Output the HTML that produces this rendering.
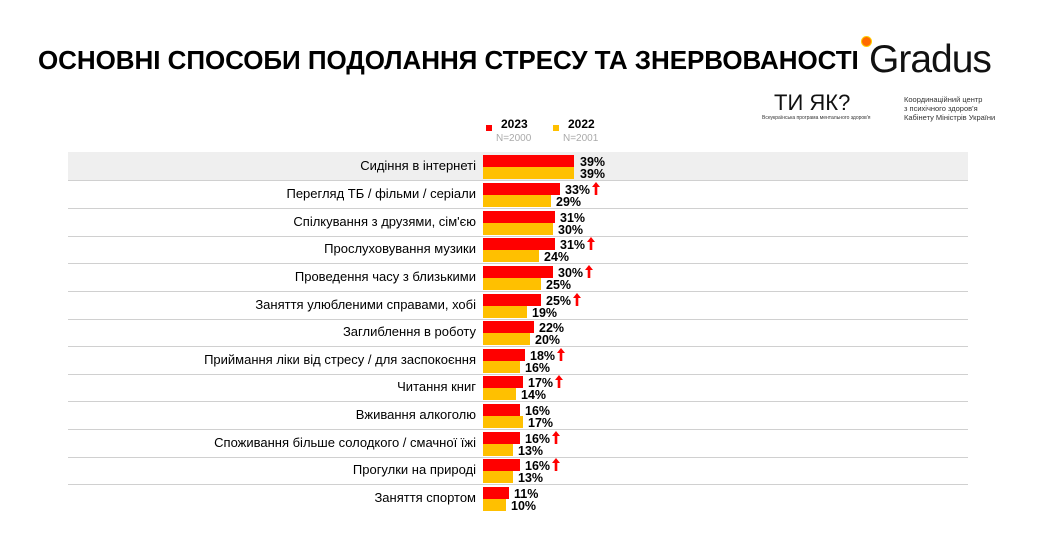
<!DOCTYPE html>
<html><head><meta charset="utf-8"><style>
body{margin:0;width:1038px;height:537px;background:#fff;position:relative;overflow:hidden;font-family:"Liberation Sans",sans-serif}
.t{position:absolute;left:38px;top:45px;font-size:26px;font-weight:bold;color:#000;white-space:nowrap;letter-spacing:-0.05px}
.r{position:absolute;left:68px;width:900px;height:28px;border-bottom:1px solid #d0d0d0}
.r.g{background:#efefef}
.l{position:absolute;right:492px;top:6px;font-size:13px;color:#000;white-space:nowrap}
.a{position:absolute;left:415px;top:3px;height:12px;background:#ff0000}
.b{position:absolute;left:415px;top:15px;height:12px;background:#ffc000}
.p{position:absolute;font-size:12.5px;font-weight:bold;color:#000;line-height:12px}
.u{position:absolute;width:8px;height:13px}
</style></head><body>
<svg width="0" height="0" style="position:absolute"><defs><symbol id="ar" viewBox="0 0 8 13"><polygon points="4,0 8,5 5.3,5 5.3,13 2.7,13 2.7,5 0,5" fill="#f00"/></symbol></defs></svg>
<div class="t">ОСНОВНІ СПОСОБИ ПОДОЛАННЯ СТРЕСУ ТА ЗНЕРВОВАНОСТІ</div>
<div style="position:absolute;left:869px;top:38px;font-size:39px;color:#111;letter-spacing:-1px">Gradus</div>
<div style="position:absolute;left:861px;top:36px;width:9px;height:9px;border-radius:50%;background:#ff6a00;border:1px solid #fc0"></div>
<div style="position:absolute;left:774px;top:90px;font-size:22px;color:#111">ТИ ЯК?</div>
<div style="position:absolute;left:762px;top:115px;font-size:5px;color:#333">Всеукраїнська програма ментального здоров'я</div>
<div style="position:absolute;left:904px;top:95px;font-size:7.5px;line-height:9px;color:#333">Координаційний центр<br>з психічного здоров'я<br>Кабінету Міністрів України</div>
<div style="position:absolute;left:486px;top:125px;width:6px;height:6px;background:#f00"></div>
<div style="position:absolute;left:501px;top:117px;font-size:12px;font-weight:bold">2023</div>
<div style="position:absolute;left:496px;top:133px;font-size:10px;color:#aaa">N=2000</div>
<div style="position:absolute;left:553px;top:125px;width:6px;height:6px;background:#ffc000"></div>
<div style="position:absolute;left:568px;top:117px;font-size:12px;font-weight:bold">2022</div>
<div style="position:absolute;left:563px;top:133px;font-size:10px;color:#aaa">N=2001</div>

<div class="r g" style="top:152px"><div class="l">Сидіння в інтернеті</div><div class="a" style="width:91px"></div><div class="b" style="width:91px"></div><div class="p" style="left:512px;top:4px">39%</div><div class="p" style="left:512px;top:16px">39%</div></div>
<div class="r" style="top:180px"><div class="l">Перегляд ТБ / фільми / серіали</div><div class="a" style="width:77px"></div><div class="b" style="width:68px"></div><div class="p" style="left:497px;top:4px">33%</div><svg class="u" style="left:524px;top:2px"><use href="#ar"/></svg><div class="p" style="left:488px;top:16px">29%</div></div>
<div class="r" style="top:208px"><div class="l">Спілкування з друзями, сім'єю</div><div class="a" style="width:72px"></div><div class="b" style="width:70px"></div><div class="p" style="left:492px;top:4px">31%</div><div class="p" style="left:490px;top:16px">30%</div></div>
<div class="r" style="top:235px"><div class="l">Прослуховування музики</div><div class="a" style="width:72px"></div><div class="b" style="width:56px"></div><div class="p" style="left:492px;top:4px">31%</div><svg class="u" style="left:519px;top:2px"><use href="#ar"/></svg><div class="p" style="left:476px;top:16px">24%</div></div>
<div class="r" style="top:263px"><div class="l">Проведення часу з близькими</div><div class="a" style="width:70px"></div><div class="b" style="width:58px"></div><div class="p" style="left:490px;top:4px">30%</div><svg class="u" style="left:517px;top:2px"><use href="#ar"/></svg><div class="p" style="left:478px;top:16px">25%</div></div>
<div class="r" style="top:291px"><div class="l">Заняття улюбленими справами, хобі</div><div class="a" style="width:58px"></div><div class="b" style="width:44px"></div><div class="p" style="left:478px;top:4px">25%</div><svg class="u" style="left:505px;top:2px"><use href="#ar"/></svg><div class="p" style="left:464px;top:16px">19%</div></div>
<div class="r" style="top:318px"><div class="l">Заглиблення в роботу</div><div class="a" style="width:51px"></div><div class="b" style="width:47px"></div><div class="p" style="left:471px;top:4px">22%</div><div class="p" style="left:467px;top:16px">20%</div></div>
<div class="r" style="top:346px"><div class="l">Приймання ліки від стресу / для заспокоєння</div><div class="a" style="width:42px"></div><div class="b" style="width:37px"></div><div class="p" style="left:462px;top:4px">18%</div><svg class="u" style="left:489px;top:2px"><use href="#ar"/></svg><div class="p" style="left:457px;top:16px">16%</div></div>
<div class="r" style="top:373px"><div class="l">Читання книг</div><div class="a" style="width:40px"></div><div class="b" style="width:33px"></div><div class="p" style="left:460px;top:4px">17%</div><svg class="u" style="left:487px;top:2px"><use href="#ar"/></svg><div class="p" style="left:453px;top:16px">14%</div></div>
<div class="r" style="top:401px"><div class="l">Вживання алкоголю</div><div class="a" style="width:37px"></div><div class="b" style="width:40px"></div><div class="p" style="left:457px;top:4px">16%</div><div class="p" style="left:460px;top:16px">17%</div></div>
<div class="r" style="top:429px"><div class="l">Споживання більше солодкого / смачної їжі</div><div class="a" style="width:37px"></div><div class="b" style="width:30px"></div><div class="p" style="left:457px;top:4px">16%</div><svg class="u" style="left:484px;top:2px"><use href="#ar"/></svg><div class="p" style="left:450px;top:16px">13%</div></div>
<div class="r" style="top:456px"><div class="l">Прогулки на природі</div><div class="a" style="width:37px"></div><div class="b" style="width:30px"></div><div class="p" style="left:457px;top:4px">16%</div><svg class="u" style="left:484px;top:2px"><use href="#ar"/></svg><div class="p" style="left:450px;top:16px">13%</div></div>
<div class="r" style="top:484px;border-bottom:none"><div class="l">Заняття спортом</div><div class="a" style="width:26px"></div><div class="b" style="width:23px"></div><div class="p" style="left:446px;top:4px">11%</div><div class="p" style="left:443px;top:16px">10%</div></div>
</body></html>
